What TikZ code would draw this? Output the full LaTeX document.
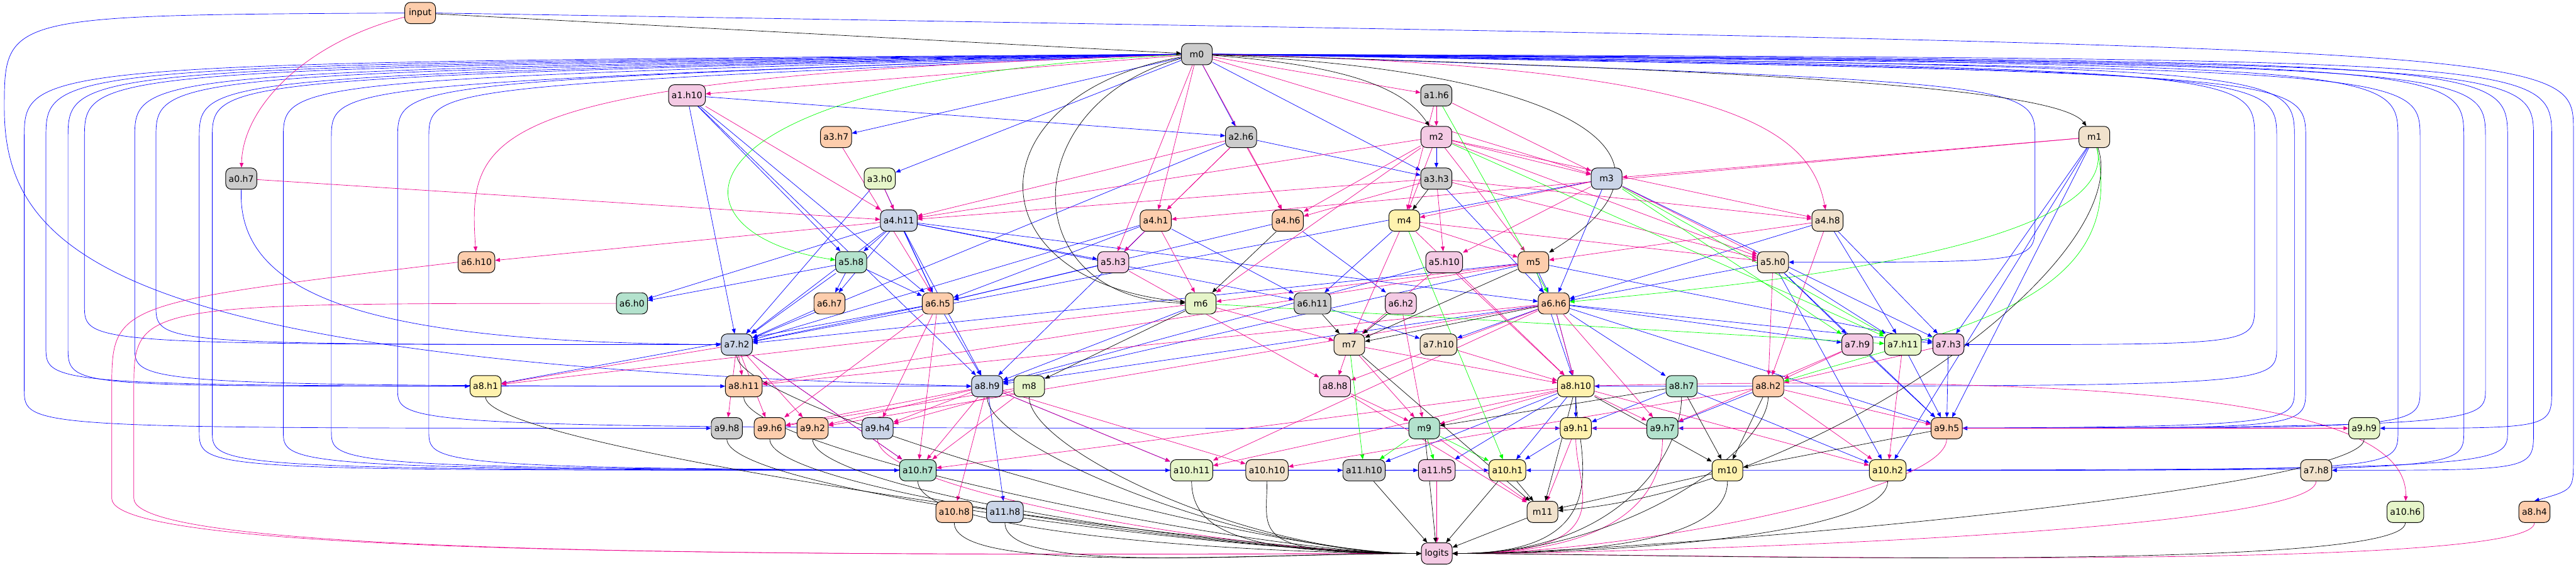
\documentclass[tikz,border=0pt]{standalone}
\usepackage{fontspec}
\setmainfont{DejaVu Sans}
\usepackage{tikz}
\usetikzlibrary{arrows.meta, positioning}
\definecolor{pmint}{HTML}{B3E2CD}
\definecolor{ppeach}{HTML}{FDCDAC}
\definecolor{pblue}{HTML}{CBD5E8}
\definecolor{ppink}{HTML}{F4CAE4}
\definecolor{pgreen}{HTML}{E6F5C9}
\definecolor{pyellow}{HTML}{FFF2AE}
\definecolor{pbeige}{HTML}{F1E2CC}
\definecolor{pgray}{HTML}{CCCCCC}
\pgfdeclarelayer{bg}
\pgfsetlayers{bg,main}

\begin{document}
\begin{tikzpicture}[
    hd/.style={draw, rounded corners=1.3mm, minimum width=7.1mm, minimum height=4.9mm,
      inner xsep=0.7mm, inner ysep=0mm, line width=0.4pt, font=\fontsize{5.8}{6}\selectfont},
    eb/.style={draw=blue, line width=0.28pt, -{Triangle[length=1.1mm,width=0.9mm]}},
    em/.style={draw=magenta, line width=0.28pt, -{Triangle[length=1.1mm,width=0.9mm]}},
    eg/.style={draw=green, line width=0.28pt, -{Triangle[length=1.1mm,width=0.9mm]}},
    ek/.style={draw=black, line width=0.28pt, -{Triangle[length=1.1mm,width=0.9mm]}}]
    \useasboundingbox (0,0) rectangle (59.47,-13.07);

    % rank 0-4
    \node[hd, fill=ppeach] (input) at (9.70,-0.30) {input};
    \node[hd, fill=pgray] (m0) at (27.63,-1.25) {m0};
    \node[hd, fill=ppink] (a1h10) at (15.86,-2.20) {a1.h10};
    \node[hd, fill=pgray] (a1h6) at (33.16,-2.20) {a1.h6};
    \node[hd, fill=ppeach] (a3h7) at (19.30,-3.16) {a3.h7};
    \node[hd, fill=pgray] (a2h6) at (28.65,-3.16) {a2.h6};
    \node[hd, fill=ppink] (m2) at (33.16,-3.16) {m2};
    \node[hd, fill=pbeige] (m1) at (48.35,-3.16) {m1};
    \node[hd, fill=pgray] (a0h7) at (5.57,-4.12) {a0.h7};
    \node[hd, fill=pgreen] (a3h0) at (20.31,-4.12) {a3.h0};
    \node[hd, fill=pgray] (a3h3) at (33.16,-4.12) {a3.h3};
    \node[hd, fill=pblue] (m3) at (37.09,-4.12) {m3};
    % rank 5-7
    \node[hd, fill=pblue] (a4h11) at (20.75,-5.09) {a4.h11};
    \node[hd, fill=ppeach] (a4h1) at (26.68,-5.09) {a4.h1};
    \node[hd, fill=ppeach] (a4h6) at (29.73,-5.09) {a4.h6};
    \node[hd, fill=pyellow] (m4) at (32.42,-5.09) {m4};
    \node[hd, fill=pbeige] (a4h8) at (42.19,-5.09) {a4.h8};
    \node[hd, fill=ppeach] (a6h10) at (11.00,-6.05) {a6.h10};
    \node[hd, fill=pmint] (a5h8) at (19.65,-6.05) {a5.h8};
    \node[hd, fill=ppink] (a5h3) at (25.70,-6.05) {a5.h3};
    \node[hd, fill=ppink] (a5h10) at (33.34,-6.05) {a5.h10};
    \node[hd, fill=ppeach] (m5) at (35.40,-6.05) {m5};
    \node[hd, fill=pbeige] (a5h0) at (40.93,-6.05) {a5.h0};
    \node[hd, fill=pmint] (a6h0) at (14.59,-7.00) {a6.h0};
    \node[hd, fill=ppeach] (a6h7) at (19.15,-7.00) {a6.h7};
    \node[hd, fill=ppeach] (a6h5) at (21.65,-7.00) {a6.h5};
    \node[hd, fill=pgreen] (m6) at (27.72,-7.00) {m6};
    \node[hd, fill=pgray] (a6h11) at (30.30,-7.00) {a6.h11};
    \node[hd, fill=ppink] (a6h2) at (32.34,-7.00) {a6.h2};
    \node[hd, fill=ppeach] (a6h6) at (35.87,-7.00) {a6.h6};
    % rank 8-9
    \node[hd, fill=pblue] (a7h2) at (17.01,-7.95) {a7.h2};
    \node[hd, fill=pbeige] (m7) at (31.15,-7.95) {m7};
    \node[hd, fill=pbeige] (a7h10) at (33.21,-7.95) {a7.h10};
    \node[hd, fill=ppink] (a7h9) at (42.88,-7.95) {a7.h9};
    \node[hd, fill=pgreen] (a7h11) at (43.93,-7.95) {a7.h11};
    \node[hd, fill=ppink] (a7h3) at (44.98,-7.95) {a7.h3};
    \node[hd, fill=pyellow] (a8h1) at (11.21,-8.91) {a8.h1};
    \node[hd, fill=ppeach] (a8h11) at (17.17,-8.91) {a8.h11};
    \node[hd, fill=pblue] (a8h9) at (22.79,-8.91) {a8.h9};
    \node[hd, fill=pgreen] (m8) at (23.76,-8.91) {m8};
    \node[hd, fill=ppink] (a8h8) at (30.82,-8.91) {a8.h8};
    \node[hd, fill=pyellow] (a8h10) at (36.38,-8.91) {a8.h10};
    \node[hd, fill=pmint] (a8h7) at (38.82,-8.91) {a8.h7};
    \node[hd, fill=ppeach] (a8h2) at (40.82,-8.91) {a8.h2};
    % rank 10-13
    \node[hd, fill=pgray] (a9h8) at (16.78,-9.88) {a9.h8};
    \node[hd, fill=ppeach] (a9h6) at (17.77,-9.88) {a9.h6};
    \node[hd, fill=ppeach] (a9h2) at (18.76,-9.88) {a9.h2};
    \node[hd, fill=pblue] (a9h4) at (20.26,-9.88) {a9.h4};
    \node[hd, fill=pmint] (m9) at (32.88,-9.88) {m9};
    \node[hd, fill=pyellow] (a9h1) at (36.38,-9.88) {a9.h1};
    \node[hd, fill=pmint] (a9h7) at (38.38,-9.88) {a9.h7};
    \node[hd, fill=ppeach] (a9h5) at (44.94,-9.88) {a9.h5};
    \node[hd, fill=pgreen] (a9h9) at (54.58,-9.88) {a9.h9};
    \node[hd, fill=pmint] (a10h7) at (21.19,-10.85) {a10.h7};
    \node[hd, fill=pgreen] (a10h11) at (27.51,-10.85) {a10.h11};
    \node[hd, fill=pbeige] (a10h10) at (29.25,-10.85) {a10.h10};
    \node[hd, fill=pgray] (a11h10) at (31.49,-10.85) {a11.h10};
    \node[hd, fill=ppink] (a11h5) at (33.17,-10.85) {a11.h5};
    \node[hd, fill=pyellow] (a10h1) at (34.80,-10.85) {a10.h1};
    \node[hd, fill=pyellow] (m10) at (39.88,-10.85) {m10};
    \node[hd, fill=pyellow] (a10h2) at (43.58,-10.85) {a10.h2};
    \node[hd, fill=pbeige] (a7h8) at (53.47,-10.85) {a7.h8};
    \node[hd, fill=ppeach] (a10h8) at (22.03,-11.81) {a10.h8};
    \node[hd, fill=pblue] (a11h8) at (23.20,-11.81) {a11.h8};
    \node[hd, fill=pbeige] (m11) at (35.61,-11.81) {m11};
    \node[hd, fill=pgreen] (a10h6) at (55.53,-11.81) {a10.h6};
    \node[hd, fill=ppeach] (a8h4) at (58.51,-11.81) {a8.h4};
    \node[hd, fill=ppink] (logits) at (33.17,-12.77) {logits};

    \begin{pgfonlayer}{bg}
    % blue
    \foreach \s/\t in {m0/a2h6, m0/a3h0, m0/a3h7, m0/a3h3, a1h10/a2h6, m2/a3h3, a2h6/a3h3,
        a1h10/a5h8, a4h11/a5h8, a4h11/a5h3, a4h1/a5h3, a4h11/a6h0, a5h8/a6h0, a4h11/a6h7, a5h8/a6h7,
        a4h11/a6h5, a5h8/a6h5, a4h1/a6h5, a3h0/a6h5, a4h6/a6h5, a5h3/a6h5, a1h10/a6h5,
        m4/a6h11, a4h1/a6h11, a4h11/a6h11, a4h6/a6h2, a3h3/a6h6, m3/a6h6, m5/a6h6, a4h8/a6h6, a5h0/a6h6, a4h11/a6h6,
        a6h5/a7h2, a5h8/a7h2, a6h7/a7h2, a4h11/a7h2, a3h0/a7h2, a1h10/a7h2, m5/a7h2, a4h1/a7h2, m3/a7h2, a2h6/a7h2,
        a6h6/a7h10, a6h11/a7h10, a6h6/a7h9, a5h0/a7h9, a5h0/a7h11, a4h8/a7h11, m5/a7h3, a6h6/a7h3, m3/a7h3, a4h8/a7h3, m1/a7h3,
        m5/a8h9, m6/a8h9, a6h5/a8h9, a6h6/a8h9, a4h11/a8h9, a4h1/a8h9, a5h10/a8h9, a1h10/a8h9,
        a6h6/a8h10, m5/a8h10, a6h6/a8h7, a8h10/a9h1, a8h7/a9h1, a8h2/a9h7,
        a7h3/a9h5, a7h11/a9h5, a7h9/a9h5, a6h6/a9h5, a5h0/a9h5, m1/a9h5,
        a8h10/a10h1, a9h1/a10h1, a8h10/a11h5, a8h10/a11h10, a8h9/a11h8, a7h2/a10h7,
        a8h9/a10h11, a6h5/a8h1, m1/a10h2, a8h7/a10h2, a5h0/a10h2}
        \draw[eb] (\s) -- (\t);
    \foreach \t/\x/\y/\h in {a9h8/0.56/9.88/1.45, a8h11/1.06/8.91/1.5, a8h1/1.57/8.91/1.55,
        a7h2/1.95/7.95/1.6, a8h9/3.11/8.91/1.65, a7h2/3.6/7.95/1.7, a10h7/4.6/10.85/1.75,
        a10h11/4.9/10.85/1.8, a11h10/6.54/10.85/1.85, a10h1/7.65/10.85/1.95,
        a9h1/9.18/9.88/1.9, a11h5/9.9/10.85/2.0}
        \draw[eb] (m0.west) .. controls (\x,-\h) .. (\x,-3.2) -- (\x,-\y+0.9) .. controls (\x,-\y) .. (\t.west);
    \foreach \t/\x/\y/\h in {a5h0/46.98/6.05/1.9, a7h3/52.05/7.95/1.6, a8h10/52.56/8.91/1.65,
        a9h7/52.97/9.88/1.55, a9h5/53.23/9.88/1.7, a10h2/55.36/10.85/1.5, a9h5/55.87/9.88/1.6,
        a10h2/56.88/10.85/1.45, a9h1/57.38/9.88/1.5, a10h1/57.89/10.85/1.4, a7h8/58.49/10.85/1.45,
        a9h9/58.91/9.88/1.35}
        \draw[eb] (m0.east) .. controls (\x,-\h) .. (\x,-3.2) -- (\x,-\y+0.9) .. controls (\x,-\y) .. (\t.east);
    \draw[eb] (input.east) .. controls (59.41,-1.1) .. (59.41,-3) -- (59.41,-10.6) .. controls (59.41,-11.3) .. (a8h4.north);
    \draw[eb] (input.west) .. controls (0.1,-0.35) .. (0.1,-2.5) .. controls (0.1,-6) and (3,-8.4) .. (a8h9.west);
    \draw[eb] (a0h7.south) .. controls (5.45,-7) and (9,-7.9) .. (a7h2.west);

    % magenta
    \foreach \s/\t in {m0/a1h10, m0/a1h6, a1h6/m2, m0/a4h1, m0/a4h6, m0/a5h3, a2h6/a4h1, a2h6/a4h6, a2h6/a5h3,
        a3h0/a4h11, a1h10/a4h11, a2h6/a4h11, m2/a4h11, a3h3/a4h11, a0h7/a4h11, m0/m3, m2/m3, a1h6/m3, m1/m3,
        m2/a4h6, a3h3/a4h6, m2/m4, m3/m4, a1h6/m4, a3h3/a5h10, m3/a5h10, m2/m5, m4/m5, a4h8/m5,
        m2/a4h8, a3h3/a4h8, m2/a5h0, a3h3/a5h0, m3/a5h0, m4/a5h0, a4h11/a6h10, a3h7/a6h5, m1/a4h1,
        m2/m6, a4h1/m6, m5/m6, a5h10/m7, m4/m7, m6/m7, a7h2/a8h11, m5/a8h11, a6h6/a8h11, a7h2/a8h1, m6/a8h1,
        m7/a8h8, a6h6/a8h8, a5h3/a8h8, m7/a8h10, a7h10/a8h10, a6h6/a8h10, a5h10/a8h10, m4/a8h10,
        a7h9/a8h2, a7h3/a8h2, a5h0/a8h2, a4h8/a8h2, m7/m9, a8h8/m9, a8h10/m9, a6h2/m9,
        a7h2/a9h8, a7h2/a9h6, a6h5/a9h6, a8h9/a9h6, m8/a9h6, a6h6/a9h2, a8h9/a9h2, a7h2/a9h2,
        a6h5/a9h4, a8h9/a9h4, m8/a9h4, a8h10/a9h7, a6h6/a9h7, a7h9/a9h7, a8h2/a9h5,
        a8h9/a10h7, a6h5/a10h7, a7h2/a10h7, m8/a10h7, a8h10/a10h7, a8h9/a10h11, a8h10/a10h11, a6h6/a10h11,
        a8h9/a10h10, a8h2/a10h10, a8h9/a10h8, a8h2/a10h2, a7h11/a10h2, a8h10/a10h2,
        m9/m11, a9h1/m11, a8h8/m11, m9/a9h9, a11h5/logits}
        \draw[em] (\s) -- (\t);
    \draw[em] (input) .. controls (7,-1) and (5.6,-2.5) .. (a0h7);
    \draw[em] (m0) .. controls (11,-1.8) and (10.8,-3) .. (a6h10);
    \draw[em] (m0) .. controls (40,-1.5) and (41.8,-3) .. (a4h8);
    \draw[em] (a8h10) .. controls (50,-8.6) and (55.6,-9.4) .. (a10h6);
    \foreach \s/\x in {a6h10/2.58, a6h0/3.09}
        \draw[em] (\s.west) .. controls (\x,-7) .. (\x,-9) -- (\x,-11.5) .. controls (\x,-12.9) and (20,-12.8) .. (logits.west);
    \foreach \s in {a9h4}
        \draw[em] (\s.south) .. controls +(0,-1.2) and +(-4,0) .. (logits.west);
    \foreach \s in {a9h1, a9h7, a7h8, a8h4, a9h5}
        \draw[em] (\s.south) .. controls +(0,-1.2) and +(4,0) .. (logits.east);

    % green
    \foreach \s/\t in {a1h6/a6h6, m2/a7h11, m3/a7h11, m3/a7h9, m4/a10h1, m7/a11h10, m9/a11h10,
        m9/a11h5, m9/a10h1, m6/a7h11}
        \draw[eg] (\s) -- (\t);
    \draw[eg] (m0) .. controls (15.2,-1.8) and (15.2,-5.4) .. (a5h8);
    \draw[eg] (m1) .. controls (49.2,-7) and (45,-7.6) .. (a8h2);
    \draw[eg] (m1) .. controls (49,-5.8) and (40,-6.6) .. (a6h6);

    % black
    \foreach \s/\t in {input/m0, a3h3/m4, a4h6/m6, a6h11/m7, a6h2/m7, a6h6/m7, m5/m7, m6/m8, a8h7/m9,
        a8h10/m10, a8h2/m10, a9h5/m10, a8h7/m10, a10h1/m11, a8h10/m11, m7/m11, m10/m11,
        m11/logits, a10h1/logits, m9/logits, a11h10/logits}
        \draw[ek] (\s) -- (\t);
    \draw[ek] (m0) .. controls (31,-1.5) and (32.4,-2) .. (m2);
    \draw[ek] (m0) .. controls (40,-1.6) and (47.5,-2) .. (m1);
    \draw[ek] (m0) .. controls (36,-1.6) and (39.5,-3.5) .. (m5);
    \draw[ek] (m0) .. controls (22.4,-2.2) and (22.4,-6.5) .. (m6);
    \draw[ek] (m0) .. controls (23.4,-2.4) and (23.4,-6.9) .. (m6);
    \draw[ek] (m1) .. controls (49.3,-6) and (42,-11.3) .. (m11);
    \foreach \s in {a8h1, a7h2, a8h11, a9h8, a9h6, a9h2, a10h7, a10h8, a11h8, a8h9, m8, a10h11, a10h10}
        \draw[ek] (\s.south) .. controls +(0,-1.2) and +(-4,0) .. (logits.west);
    \foreach \s in {m10, a10h2, a9h9, a10h6, a8h7, a8h10, a8h2}
        \draw[ek] (\s.south) .. controls +(0,-1.2) and +(4,0) .. (logits.east);
    \end{pgfonlayer}
\end{tikzpicture}
\end{document}
